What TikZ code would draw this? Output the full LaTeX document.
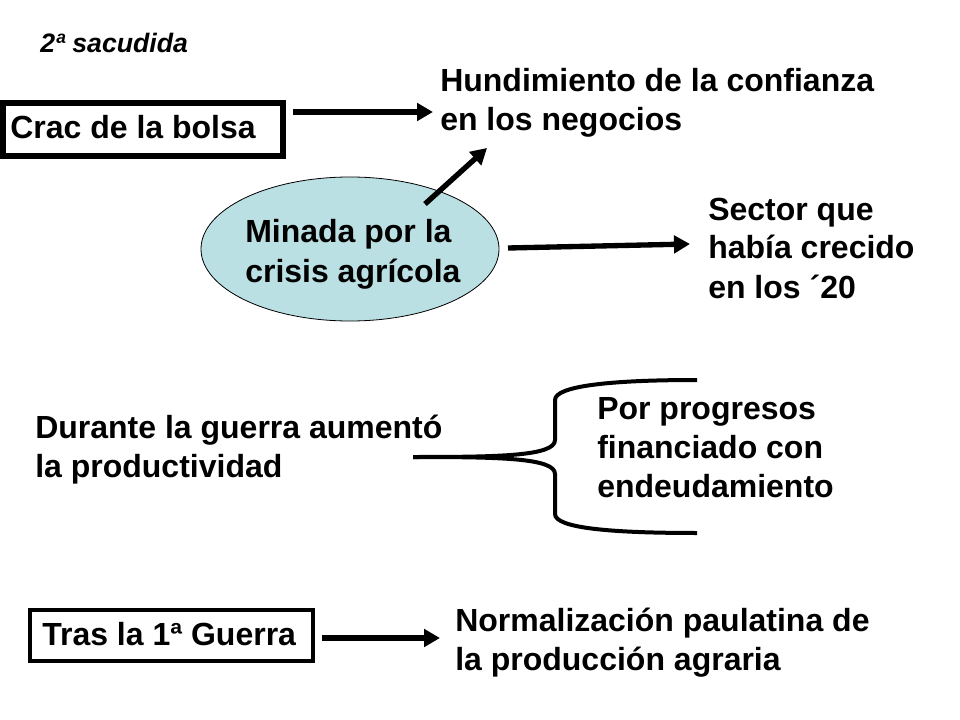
\documentclass[tikz,border=0pt]{standalone}
\usepackage{fontspec}
\setmainfont{Liberation Sans}
\usetikzlibrary{arrows.meta,shapes.geometric}
\definecolor{ellfill}{RGB}{187,224,228}
\begin{document}
\begin{tikzpicture}[x=0.75pt,y=-0.75pt,
  txt/.style={inner sep=0pt,anchor=base west,align=left,font=\fontsize{24}{29.25}\selectfont\bfseries},
  arr/.style={line width=4pt,-{Triangle[length=12pt,width=13pt]}},
  brace/.style={line width=3pt},
  boxframe/.style={draw,inner sep=0pt}]
\useasboundingbox (0,0) rectangle (960,720);

% title
\node[inner sep=0pt,anchor=base west,font=\fontsize{20}{24}\selectfont\bfseries\itshape] (sac) at (40,53) {2ª sacudida};

% Crac box
\node[boxframe,line width=4.5pt,minimum width=210pt,minimum height=39.75pt] (cracbox) at (143,129.5) {};
\node[txt] (crac) at (10,139) {Crac de la bolsa};
\coordinate (c1) at (293,112);
\coordinate (c2) at (433,112);
\draw[arr] (c1) -- (c2);

\node[txt] (hund) at (440,131) {Hundimiento de la confianza\\en los negocios};

% ellipse
\node[ellipse,draw,fill=ellfill,line width=0.6pt,minimum width=223.5pt,minimum height=108pt,inner sep=0pt] (ell) at (350,249) {};
\node[txt] (minada) at (245,282) {Minada por la\\crisis agrícola};
\coordinate (d1) at (425,204);
\coordinate (d2) at (487,148);
\draw[arr] (d1) -- (d2);
\coordinate (s1) at (508,248);
\coordinate (s2) at (690,244);
\draw[arr] (s1) -- (s2);
\node[txt] (sector) at (708,298) {Sector que\\había crecido\\en los ´20};

% durante
\node[txt] (durante) at (35,477) {Durante la guerra aumentó\\la productividad};
\coordinate (b0) at (413,457);
\coordinate (bt) at (697,380);
\coordinate (bb) at (697,533);
\draw[brace] (b0) .. controls (500,457) and (555,456) .. (555,440) -- (555,400)
  .. controls (555,386) and (610,380) .. (bt);
\draw[brace] (b0) .. controls (500,457) and (555,458) .. (555,474) -- (555,514)
  .. controls (555,528) and (610,533) .. (bb);
\node[txt] (por) at (597,497) {Por progresos\\financiado con\\endeudamiento};

% tras
\node[boxframe,line width=3pt,minimum width=212.25pt,minimum height=38.25pt] (trasbox) at (171.5,635.5) {};
\node[txt] (tras) at (42,645) {Tras la 1ª Guerra};
\coordinate (t1) at (322,638);
\coordinate (t2) at (440,638);
\draw[arr] (t1) -- (t2);
\node[txt] (norm) at (455,670) {Normalización paulatina de\\la producción agraria};
\end{tikzpicture}
\end{document}
